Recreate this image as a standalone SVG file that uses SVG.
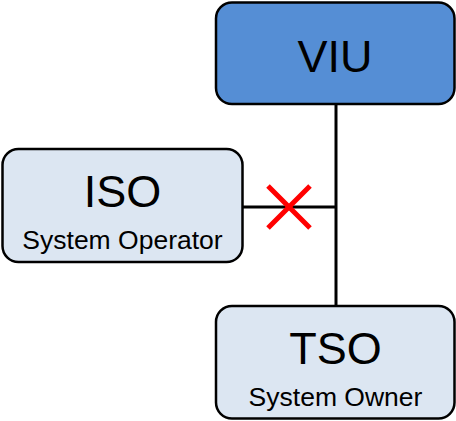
<svg xmlns="http://www.w3.org/2000/svg" width="456" height="421" viewBox="0 0 456 421">
<style>
.box{stroke:#000;stroke-width:2.5}
.light{fill:#DCE6F2}
.dark{fill:#558ED5}
.t{font-family:"Liberation Sans",Arial,sans-serif;fill:#000;text-anchor:middle}
.big{font-size:45px}
.sub{font-size:26.5px}
.wire{stroke:#000;stroke-width:3;fill:none}
.x{stroke:#FF0000;stroke-width:5;fill:none}
</style>
<rect width="456" height="421" fill="#fff"/>
<g id="connectors">
<line class="wire" x1="336" y1="104" x2="336" y2="306"/>
<line class="wire" x1="243" y1="207" x2="336" y2="207"/>
<path class="x" d="M268 186 L310 228 M310 186 L268 228"/>
</g>
<g id="VIU">
<rect class="box dark" x="216" y="2.5" width="238.5" height="101.5" rx="16"/>
<text class="t big" x="335" y="72">VIU</text>
</g>
<g id="ISO">
<rect class="box light" x="2.5" y="149" width="240" height="113" rx="16"/>
<text class="t big" x="122.5" y="207">ISO</text>
<text class="t sub" x="122.5" y="249">System Operator</text>
</g>
<g id="TSO">
<rect class="box light" x="216" y="306" width="238.5" height="112.5" rx="16"/>
<text class="t big" x="335.5" y="364">TSO</text>
<text class="t sub" x="335.5" y="406">System Owner</text>
</g>
</svg>
